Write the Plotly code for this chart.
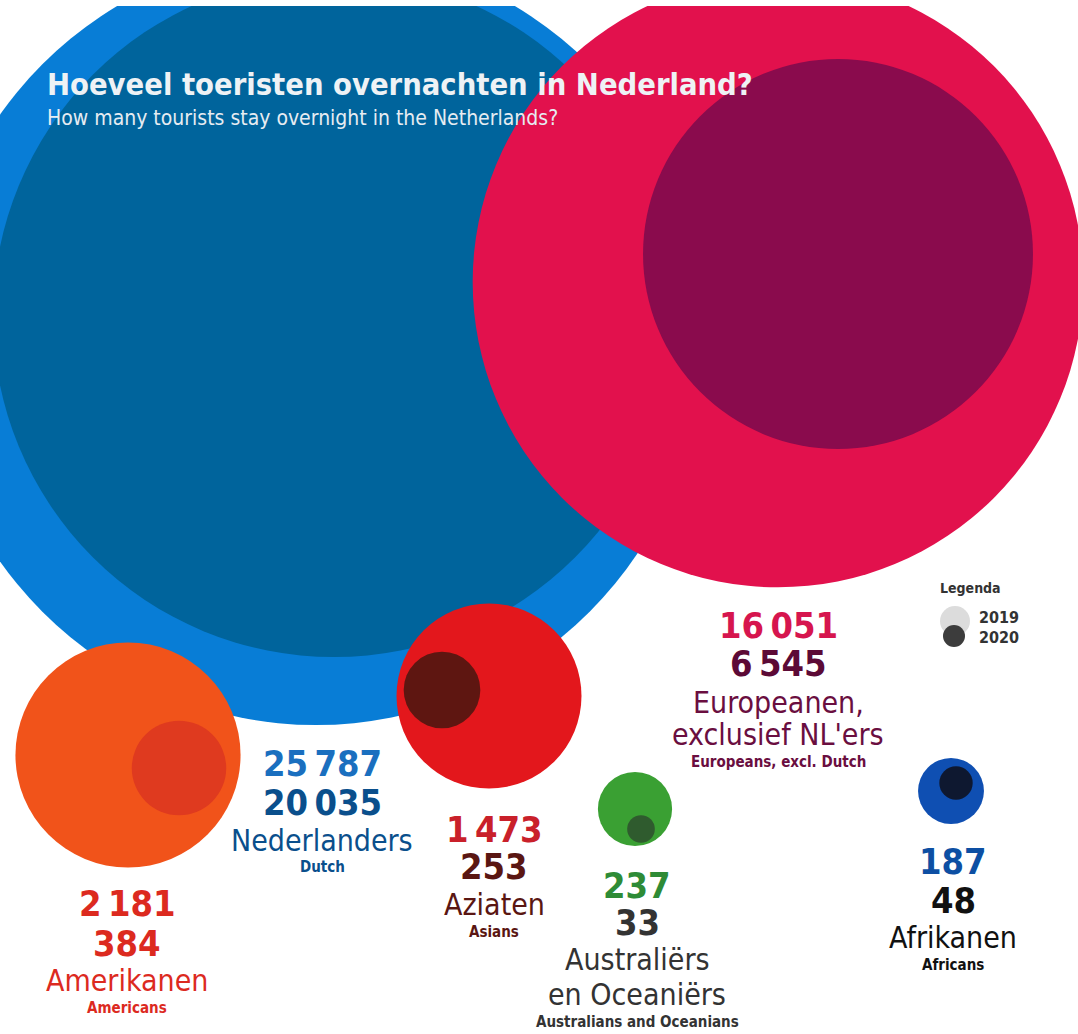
import math
import plotly.graph_objects as go

# ---------------- data ----------------
groups_nl = [["Nederlanders"], ["Europeanen,", "exclusief NL'ers"], ["Amerikanen"],
             ["Aziaten"], ["Australiërs", "en Oceaniërs"], ["Afrikanen"]]
groups_en = ["Dutch", "Europeans, excl. Dutch", "Americans", "Asians",
             "Australians and Oceanians", "Africans"]
v2019 = [25787, 16051, 2181, 1473, 237, 187]
v2020 = [20035, 6545, 384, 253, 33, 48]
title = "Hoeveel toeristen overnachten in Nederland?"
subtitle = "How many tourists stay overnight in the Netherlands?"
legend_title = "Legenda"
legend_years = ["2019", "2020"]

# ---------------- layout / style ----------------
W, H = 1078, 1034
TOP = 6
outer_xy = [(316, 338), (778, 282), (128, 755), (489, 696), (635, 809), (951, 791)]
inner_xy = [(334, 316), (838, 254), (179, 768), (442, 690), (641, 829), (956, 783)]
outer_col = ["#087dd6", "#e2114d", "#f1531a", "#e3171c", "#3aa033", "#0f4fb2"]
inner_col = ["#00649c", "#8a0b4d", "#df3a1f", "#5e1611", "#2f5b2e", "#0e1830"]

# label layout: x, y(2019), y(2020), y(name lines...), y(english)
lab = [
    (322, 763, 802, [840], 867),
    (778, 625, 663, [702, 734], 762),
    (127, 903, 943, [980], 1008),
    (494, 829, 866, [904], 932),
    (637, 885, 922, [959, 994], 1022),
    (953, 861, 900, [937], 965),
]
col19 = ["#1a6fbf", "#d6154e", "#dc2a1f", "#c9202a", "#2e8b36", "#0d4fa3"]
col20 = ["#0a4f8c", "#5c0a36", "#dc2a1f", "#5a1612", "#333333", "#111111"]
colnm = ["#0a4f8c", "#6a0e40", "#dc2a1f", "#5a1612", "#333333", "#111111"]

FONT = "DejaVu Sans Condensed, DejaVu Sans, sans-serif"

k = 774 / math.sqrt(max(v2019))  # px diameter per sqrt(unit)


def fmt(v):
    return f"{v:,}".replace(",", "\u2009")


fig = go.Figure()
for i in range(len(v2019)):
    fig.add_trace(go.Scatter(
        x=[outer_xy[i][0]], y=[outer_xy[i][1]], mode="markers",
        marker=dict(size=k * math.sqrt(v2019[i]), color=outer_col[i], line=dict(width=0)),
        hoverinfo="skip", cliponaxis=True))
    fig.add_trace(go.Scatter(
        x=[inner_xy[i][0]], y=[inner_xy[i][1]], mode="markers",
        marker=dict(size=k * math.sqrt(v2020[i]), color=inner_col[i], line=dict(width=0)),
        hoverinfo="skip", cliponaxis=True))

# legend circles
fig.add_trace(go.Scatter(x=[955], y=[621], mode="markers",
                         marker=dict(size=30, color="#dcdcdc", line=dict(width=0)), hoverinfo="skip"))
fig.add_trace(go.Scatter(x=[954], y=[636], mode="markers",
                         marker=dict(size=22, color="#3c3c3c", line=dict(width=0)), hoverinfo="skip"))

ann = []


def add(x, y, text, size, color, bold=False, xanchor="center", family=FONT):
    ann.append(dict(x=x, y=y, xref="x", yref="y", text=text, showarrow=False,
                    xanchor=xanchor, yanchor="middle",
                    font=dict(family=family, size=size, color=color,
                              weight="bold" if bold else "normal")))


for i in range(len(v2019)):
    x, y19, y20, ynames, yen = lab[i]
    add(x, y19, fmt(v2019[i]), 36, col19[i], bold=True)
    add(x, y20, fmt(v2020[i]), 36, col20[i], bold=True)
    for line, yy in zip(groups_nl[i], ynames):
        add(x, yy, line, 30, colnm[i])
    add(x, yen, groups_en[i], 15, colnm[i], bold=True)

add(45, 84, title, 30.6, "#eef2f5", bold=True, xanchor="left")
add(45, 118, subtitle, 21, "#e6ecf2", xanchor="left")
add(970, 588, legend_title, 14, "#333333", bold=True)
add(999, 617, legend_years[0], 16, "#333333", bold=True)
add(999, 637, legend_years[1], 16, "#333333", bold=True)

fig.update_layout(
    width=W, height=H, margin=dict(l=0, r=0, t=TOP, b=0),
    paper_bgcolor="white", plot_bgcolor="white", showlegend=False,
    xaxis=dict(range=[0, W], visible=False, fixedrange=True),
    yaxis=dict(range=[H, TOP], visible=False, fixedrange=True),
    annotations=ann,
)

fig.write_html("out.html", config={"displayModeBar": False},
               post_script="document.body.style.margin='0';")
